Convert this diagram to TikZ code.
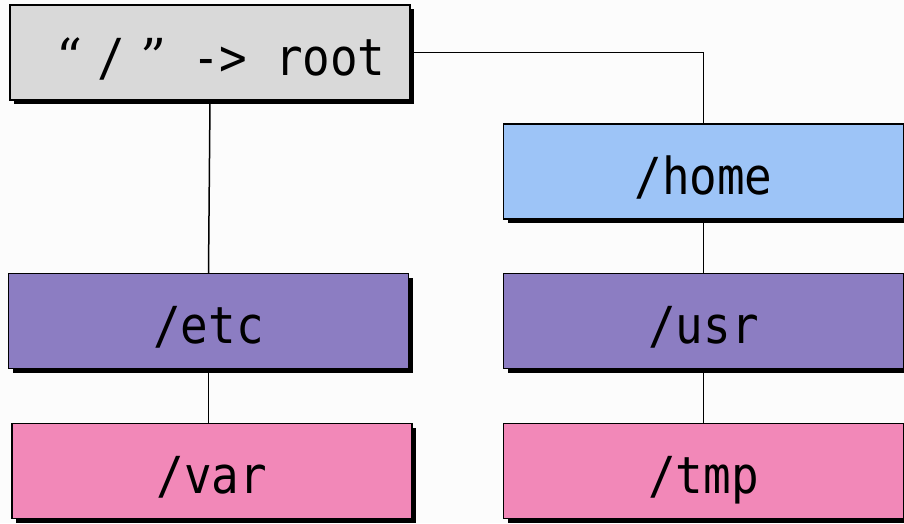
\documentclass[tikz,border=0pt]{standalone}
\usepackage{fontspec}
\setmainfont{DejaVu Serif}
\setmonofont[FakeStretch=0.9]{DejaVu Sans Mono}
\usetikzlibrary{shadows}

\definecolor{rootgray}{HTML}{D9D9D9}
\definecolor{homeblue}{HTML}{9DC4F7}
\definecolor{dirpurple}{HTML}{8C7DC2}
\definecolor{dirpink}{HTML}{F288B8}

\tikzset{
  dirbox/.style={draw, line width=1.5pt, minimum width=400pt, minimum height=95pt,
    inner sep=0pt, text height=45pt, text depth=0pt, font=\ttfamily\fontsize{51}{60}\selectfont,
    drop shadow={shadow xshift=4pt, shadow yshift=-4pt, fill=black, opacity=1}},
  link/.style={line width=1.5pt}
}

\begin{document}
\begin{tikzpicture}[x=1pt, y=-1pt]
\useasboundingbox[fill=white!99!black] (0,0) rectangle (904,523);
% Dossiers
\node[dirbox, fill=rootgray] (root) at (210,52.5)
  {\hspace{22pt}{\rmfamily “}\hspace{15pt}/\hspace{15pt}{\rmfamily ”}\hspace{26pt}->\ root};
\node[dirbox, fill=homeblue] (home) at (703.5,171.5) {/home};
\node[dirbox, fill=dirpurple] (etc) at (208.5,321) {/etc};
\node[dirbox, fill=dirpurple] (usr) at (703.5,321) {/usr};
\node[dirbox, fill=dirpink] (var) at (212,471) {/var};
\node[dirbox, fill=dirpink] (tmp) at (703.5,471) {/tmp};
% Liens
\draw[link] (root.south) -- (etc.north);
\draw[link] (root.east) -| (home.north);
\draw[link] (home.south) -- (usr.north);
\draw[link] (usr.south) -- (tmp.north);
\draw[link] (etc.south) -- (etc.south |- var.north);
\end{tikzpicture}
\end{document}
